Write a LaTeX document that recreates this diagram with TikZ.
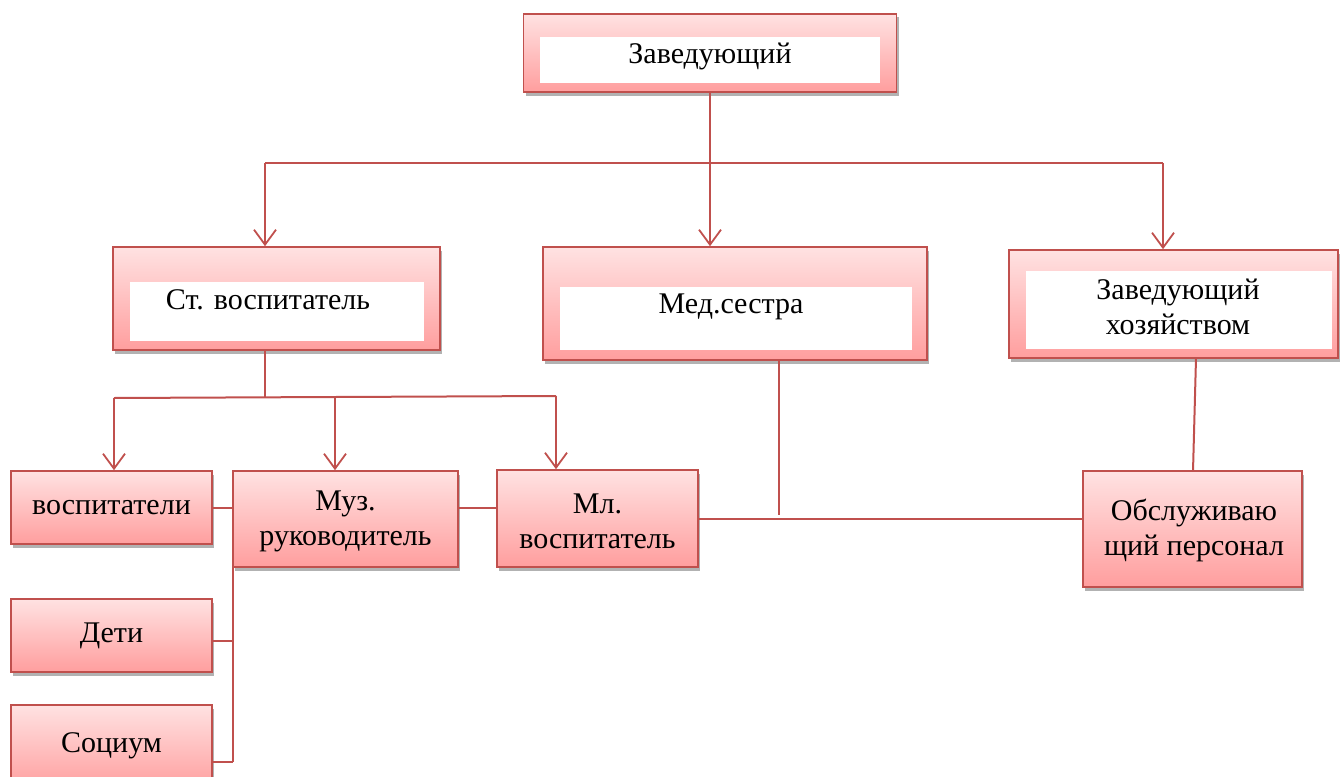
\documentclass[tikz,border=0pt]{standalone}
\usepackage{fontspec}
\setmainfont{Liberation Serif}
\usetikzlibrary{arrows.meta,shadows}
\definecolor{edge}{HTML}{C0504D}
\definecolor{ptop}{HTML}{FFE2E2}
\definecolor{pbot}{HTML}{FF9E9E}
\begin{document}
\begin{tikzpicture}[x=1pt,y=-1pt,
  box/.style={draw=edge,line width=1.6pt,top color=ptop,bottom color=pbot,inner sep=0pt,
    drop shadow={shadow xshift=2pt,shadow yshift=-3.5pt,fill=black,opacity=0.3}},
  txt/.style={font=\fontsize{30}{35}\selectfont,align=center,inner sep=0pt},
  con/.style={draw=edge,line width=2pt},
  arr/.style={con,-{Straight Barb[length=15pt,width=22pt,line width=1.8pt]}}]
\useasboundingbox (0,0) rectangle (1340,776);
% boxes
\node[box,minimum width=373pt,minimum height=78pt] (zav) at (710,53) {};
\node[box,minimum width=327pt,minimum height=103pt] (st) at (276.5,298.5) {};
\node[box,minimum width=384pt,minimum height=113pt] (med) at (735,303.5) {};
\node[box,minimum width=329pt,minimum height=108pt] (hoz) at (1173.5,304) {};
\node[box,minimum width=201pt,minimum height=73pt] (vos) at (111.5,507.5) {};
\node[box,minimum width=225pt,minimum height=96pt] (muz) at (345.5,519) {};
\node[box,minimum width=201pt,minimum height=97pt] (ml) at (597.5,518.5) {};
\node[box,minimum width=219pt,minimum height=116pt] (obs) at (1192.5,529) {};
\node[box,minimum width=201pt,minimum height=73pt] (deti) at (111.5,635.5) {};
\node[box,minimum width=201pt,minimum height=85pt] (soc) at (111.5,747.5) {};
% inner white panels
\fill[white] (540,37) rectangle (880,83);
\fill[white] (130,282) rectangle (424,341);
\fill[white] (560,287) rectangle (912,350);
\fill[white] (1026,271) rectangle (1332,349);
% texts
\node[txt] (zavT) at (710,56) {Заведующий};
\node[txt] (stT) at (268,300) {Ст. воспитатель};
\node[txt] (medT) at (731,307) {Мед.сестра};
\node[txt] (hozT) at (1178,307) {Заведующий\\хозяйством};
\node[txt] (vosT) at (111.5,508) {воспитатели};
\node[txt] (muzT) at (345.5,521) {Муз.\\руководитель};
\node[txt] (mlT) at (597.5,521) {Мл.\\воспитатель};
\node[txt] (obsT) at (1194,530) {Обслуживаю\\щий персонал};
\node[txt] (detiT) at (111.5,636) {Дети};
\node[txt] (socT) at (111.5,746) {Социум};
% bus coordinates
\coordinate (b1L) at (265,163);
\coordinate (b1R) at (1163,163);
\coordinate (b2L) at (114,398);
\coordinate (b2M) at (335,397);
\coordinate (b2R) at (556,396);
\coordinate (m1) at (779,360);
\coordinate (m2) at (779,515);
\coordinate (h1) at (1196,358);
\coordinate (v1) at (233,508);
\coordinate (v2) at (233,762);
\coordinate (d1) at (233,641);
% connectors level 1
\draw[arr] (zav.south) -- (zav.south |- med.north);
\draw[con] (b1L) -- (b1R);
\draw[arr] (b1L) -- (b1L |- st.north);
\draw[arr] (b1R) -- (b1R |- hoz.north);
% level 2
\draw[con] (b1L |- st.south) -- (265,397);
\draw[con] (b2L) -- (b2R);
\draw[arr] (b2L) -- (b2L |- vos.north);
\draw[arr] (b2M) -- (b2M |- muz.north);
\draw[arr] (b2R) -- (b2R |- ml.north);
% other links
\draw[con] (m1) -- (m2);
\draw[con] (h1) -- (1193,471);
\draw[con] (ml.east |- 0,519) -- (obs.west |- 0,519);
\draw[con] (vos.east |- v1) -- (v1);
\draw[con] (muz.east |- v1) -- (ml.west |- v1);
\draw[con] (v1) -- (v2);
\draw[con] (deti.east |- d1) -- (d1);
\draw[con] (soc.east |- v2) -- (v2);
\end{tikzpicture}
\end{document}
